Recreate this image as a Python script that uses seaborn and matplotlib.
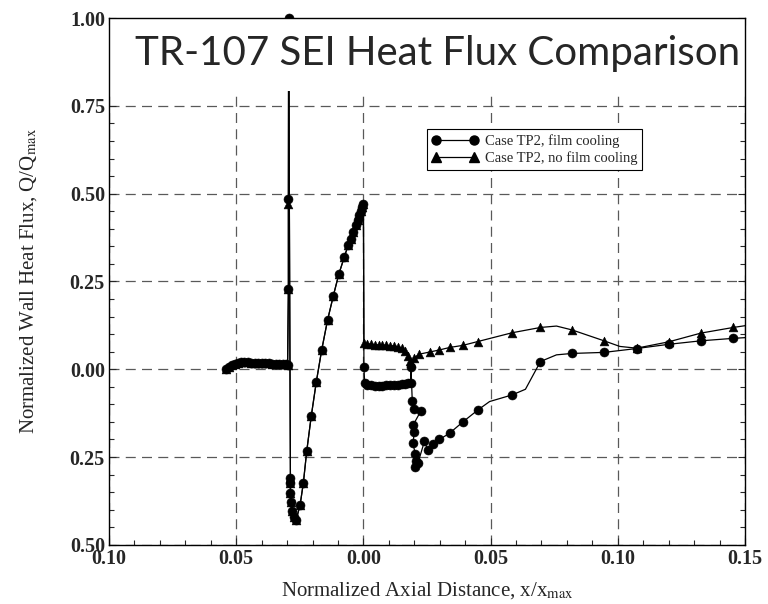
import numpy as np
import pandas as pd
import seaborn as sns
import matplotlib.pyplot as plt
from matplotlib.lines import Line2D
from matplotlib.ticker import MultipleLocator, FuncFormatter

plt.switch_backend('Agg')

# upstream of the throat both cases lie on top of each other
x_upstream = [-0.0540, -0.0530, -0.0518, -0.0505, -0.0492, -0.0480, -0.0468, -0.0455, -0.0442, -0.0428,
              -0.0414, -0.0400, -0.0386, -0.0372, -0.0358, -0.0344, -0.0330, -0.0318, -0.0306, -0.0298,
              -0.0295, -0.0295, -0.0294,
              -0.0287, -0.0287, -0.0287, -0.0286, -0.0281, -0.0272, -0.0265, -0.0249, -0.0236, -0.0223,
              -0.0205, -0.0185, -0.0164, -0.0141, -0.0118, -0.0097, -0.0075, -0.0060, -0.0050, -0.0040,
              -0.0031, -0.0023, -0.0016, -0.0010, -0.0005, 0.0]
q_upstream_film = [0.002, 0.007, 0.012, 0.016, 0.019, 0.020, 0.020, 0.020, 0.019, 0.019,
                   0.018, 0.018, 0.017, 0.017, 0.016, 0.016, 0.015, 0.014, 0.014, 0.013,
                   0.228, 0.486, 1.000,
                   -0.309, -0.323, -0.353, -0.378, -0.404, -0.420, -0.430, -0.387, -0.323, -0.234,
                   -0.133, -0.035, 0.055, 0.140, 0.210, 0.270, 0.320, 0.353, 0.372, 0.392,
                   0.410, 0.426, 0.440, 0.452, 0.462, 0.470]
q_upstream_nofilm = list(q_upstream_film)
q_upstream_nofilm[21] = 0.470

# downstream, film cooling
x_film = [0.0002, 0.0005, 0.0015, 0.0030, 0.0045, 0.0060, 0.0075, 0.0090, 0.0105, 0.0120,
          0.0135, 0.0150, 0.0163, 0.0175, 0.0186, 0.0187, 0.0192, 0.0197, 0.0225, 0.0196,
          0.0200, 0.0195, 0.0203, 0.0207, 0.0203, 0.0214, 0.0240, 0.0253, 0.0273, 0.0299,
          0.0339, 0.0391, 0.0450, 0.0496, 0.0585, 0.0637, 0.0696, 0.0759, 0.0820, 0.0946,
          0.1074, 0.1200, 0.1327, 0.1454, 0.1500]
q_film = [0.005, -0.040, -0.044, -0.046, -0.047, -0.047, -0.047, -0.046, -0.046, -0.045,
          -0.044, -0.043, -0.042, -0.040, -0.038, 0.005, -0.090, -0.112, -0.120, -0.158,
          -0.178, -0.210, -0.240, -0.262, -0.278, -0.268, -0.205, -0.230, -0.214, -0.200,
          -0.182, -0.150, -0.116, -0.092, -0.073, -0.057, 0.022, 0.041, 0.045, 0.048,
          0.059, 0.071, 0.081, 0.088, 0.090]
film_no_marker = [0.0496, 0.0637, 0.0759, 0.1500]

# downstream, no film cooling
x_nofilm = [0.0002, 0.0015, 0.0030, 0.0045, 0.0060, 0.0075, 0.0090, 0.0105, 0.0120, 0.0135,
            0.0150, 0.0163, 0.0175, 0.0183, 0.0188, 0.0200, 0.0220, 0.0260, 0.0299, 0.0339,
            0.0391, 0.0450, 0.0585, 0.0696, 0.0759, 0.0820, 0.0946, 0.1008, 0.1074, 0.1200,
            0.1327, 0.1454, 0.1500]
q_nofilm = [0.076, 0.072, 0.071, 0.070, 0.069, 0.068, 0.068, 0.067, 0.066, 0.064,
            0.060, 0.052, 0.038, 0.024, 0.018, 0.033, 0.043, 0.049, 0.055, 0.062,
            0.068, 0.079, 0.104, 0.119, 0.123, 0.112, 0.081, 0.065, 0.060, 0.078,
            0.103, 0.119, 0.124]
nofilm_no_marker = [0.0759, 0.1008, 0.1500]

x_ticks = [-0.10, -0.05, 0.00, 0.05, 0.10, 0.15]
y_ticks = [-0.50, -0.25, 0.00, 0.25, 0.50, 0.75, 1.00]


def build_frame():
    film = pd.DataFrame({"x": x_upstream + x_film, "q": q_upstream_film + q_film})
    film["case"] = "film"
    film["marked"] = ~film["x"].isin(film_no_marker) | (film["x"] < 0)
    nofilm = pd.DataFrame({"x": x_upstream + x_nofilm, "q": q_upstream_nofilm + q_nofilm})
    nofilm["case"] = "nofilm"
    nofilm["marked"] = ~nofilm["x"].isin(nofilm_no_marker) | (nofilm["x"] < 0)
    return pd.concat([film, nofilm], ignore_index=True)


def main():
    sns.set_style("ticks")
    plt.rcParams['font.family'] = ['Liberation Serif', 'DejaVu Serif']
    plt.rcParams['mathtext.fontset'] = 'stix'

    data = build_frame()

    fig = plt.figure(figsize=(7.68, 6.04), dpi=100)
    ax = fig.add_axes([0.142, 0.098, 0.828, 0.872])
    ax.set_axisbelow(True)

    styles = {"nofilm": ("^", 40), "film": ("o", 42)}
    for case in ["nofilm", "film"]:
        sub = data[data["case"] == case]
        marker, size = styles[case]
        sns.lineplot(data=sub, x="x", y="q", sort=False, estimator=None, color="black",
                     lw=0.9, ax=ax, zorder=1.2, legend=False)
        sns.scatterplot(data=sub[sub["marked"]], x="x", y="q", marker=marker, s=size,
                        color="black", edgecolor="black", linewidth=0.4, ax=ax,
                        zorder=1.3, clip_on=False, legend=False)

    # white band behind the title
    ax.axhspan(0.792, 1.0, color="white", zorder=1.8, lw=0)
    ax.text(0.516, 0.933, "TR-107 SEI Heat Flux Comparison", transform=ax.transAxes,
            ha="center", va="center", fontsize=29, family="Lato", zorder=3)

    ax.set_xlim(-0.10, 0.15)
    ax.set_ylim(-0.50, 1.00)
    ax.set_xticks(x_ticks)
    ax.set_yticks(y_ticks)
    ax.xaxis.set_minor_locator(MultipleLocator(0.01))
    ax.yaxis.set_minor_locator(MultipleLocator(0.05))
    fmt = FuncFormatter(lambda v, p: f"{abs(v):.2f}")
    ax.xaxis.set_major_formatter(fmt)
    ax.yaxis.set_major_formatter(fmt)
    ax.tick_params(which="both", direction="in", top=True, right=True, width=0.8,
                   labelsize=14.5, pad=3)
    ax.tick_params(which="major", length=5)
    ax.tick_params(which="minor", length=3.5)
    for lab in ax.get_xticklabels() + ax.get_yticklabels():
        lab.set_fontweight("bold")

    ax.grid(True, which="major", color="0.35", lw=0.9, linestyle=(0, (8, 5)))
    for sp in ax.spines.values():
        sp.set_color("black")
        sp.set_linewidth(1.0)

    ax.set_xlabel("Normalized Axial Distance, x/x$_{\\rm max}$", fontsize=15, labelpad=8)
    ax.set_ylabel("Normalized Wall Heat Flux, Q/Q$_{\\rm max}$", fontsize=15, labelpad=22)

    handles = [
        Line2D([0], [0], color="black", lw=0.9, marker="o", markersize=6.5),
        Line2D([0], [0], color="black", lw=0.9, marker="^", markersize=6.5),
    ]
    leg = ax.legend(handles, ["Case TP2, film cooling", "Case TP2, no film cooling"],
                    loc="upper left", bbox_to_anchor=(0.50, 0.79), numpoints=2,
                    fontsize=10.5, fancybox=False, framealpha=1, edgecolor="black",
                    handlelength=3.2, borderpad=0.35, labelspacing=0.25, handletextpad=0.4,
                    borderaxespad=0)
    leg.get_frame().set_linewidth(0.8)
    leg.set_zorder(5)

    fig.savefig("out.png", dpi=100)


if __name__ == "__main__":
    main()
